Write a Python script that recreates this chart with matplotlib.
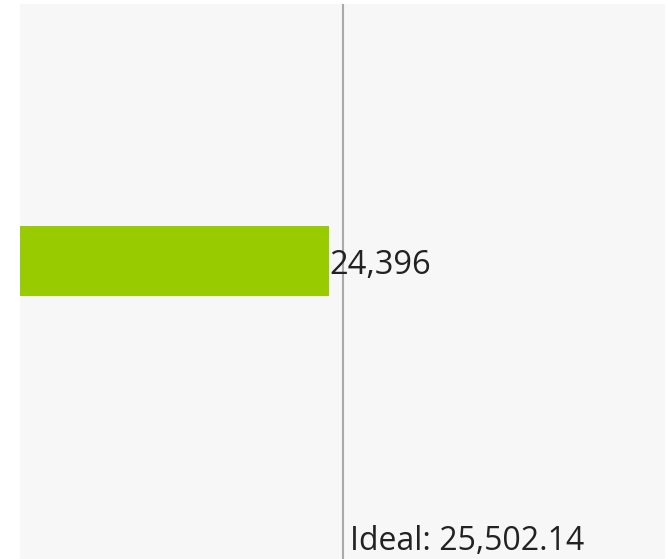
import matplotlib.pyplot as plt

# data
categories = ['Score']
values = [24396]
ideal = 25502.14

plt.rcParams['font.family'] = ['Open Sans', 'DejaVu Sans']

fig = plt.figure(figsize=(6.66, 5.59), dpi=100)
ax = fig.add_axes([20 / 666, 0, 645 / 666, 1 - 4 / 559])
ax.set_facecolor('#f7f7f7')

ax.barh(categories, values, height=0.79, color='#99cc00')
ax.axvline(ideal, color='#aaaaaa', linewidth=1.5)

for i, v in enumerate(values):
    ax.text(v + 30, i - 0.055, f'{v:,}', va='center', ha='left', fontsize=23.5, color='#222222')

ax.text(ideal + 600, -3.27, f'Ideal: {ideal:,.2f}', va='baseline', ha='left',
        fontsize=23, color='#222222')

ax.set_xlim(0, 2 * ideal)
ax.set_ylim(-3.366, 2.894)
ax.set_xticks([])
ax.set_yticks([])
for s in ax.spines.values():
    s.set_visible(False)

fig.savefig('out.png', dpi=100)
